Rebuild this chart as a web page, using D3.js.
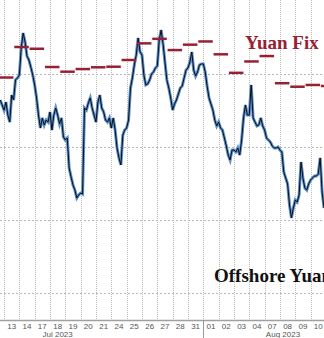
<!DOCTYPE html>
<html>
<head>
<meta charset="utf-8">
<script src="https://cdn.jsdelivr.net/npm/d3@7"></script>
<style>
  html, body { margin: 0; padding: 0; background: #fff; }
  svg { display: block; }
</style>
</head>
<body>
<div id="chart"></div>
<script>
// trading days shown on the axis (Jul 12 and Aug 11 sit just outside the frame)
const days = ["Jul 12", "Jul 13", "Jul 14", "Jul 17", "Jul 18", "Jul 19", "Jul 20", "Jul 21",
    "Jul 24", "Jul 25", "Jul 26", "Jul 27", "Jul 28", "Jul 31", "Aug 01", "Aug 02",
    "Aug 03", "Aug 04", "Aug 07", "Aug 08", "Aug 09", "Aug 10", "Aug 11"];

const tickDays = days.slice(1, 22);
const months = [{ day: "Jul 18", label: "Jul 2023", shift: 0.5 }, { day: "Aug 08", label: "Aug 2023", shift: 0.2 }];

// daily PBOC fixing
const fixDays = ["Jul 13", "Jul 14", "Jul 17", "Jul 18", "Jul 19", "Jul 20", "Jul 21", "Jul 24",
    "Jul 25", "Jul 26", "Jul 27", "Jul 28", "Jul 31", "Aug 01", "Aug 02", "Aug 03", "Aug 04",
    "Aug 07", "Aug 08", "Aug 09", "Aug 10", "Aug 11"];
const fixValues = [7.1524, 7.1315, 7.1327, 7.1452, 7.1484, 7.1466, 7.1454, 7.1450,
    7.1404, 7.1290, 7.1259, 7.1336, 7.1299, 7.1277, 7.1365, 7.1492, 7.1414,
    7.1377, 7.1563, 7.1587, 7.1575, 7.1582];

// offshore yuan, 3-hourly samples starting 18:00 on Jul 12
const cnhStart = 0.75;   // in trading days from start of Jul 12
const cnhStep = 1 / 8;
const cnhValues = [
    7.1678, 7.1712, 7.1747, 7.1692, 7.1781, 7.1829, 7.1644, 7.1678, 7.1541, 7.1527,
    7.1507, 7.1322, 7.1219, 7.1281, 7.1377, 7.1404, 7.1452, 7.1507, 7.1575, 7.1664,
    7.1781, 7.1870, 7.1801, 7.1849, 7.1815, 7.1829, 7.1760, 7.1884, 7.1781, 7.1733,
    7.1781, 7.1842, 7.1801, 7.1931, 7.1952, 7.1938, 7.2144, 7.2205, 7.2260, 7.2295,
    7.2349, 7.2329, 7.2315, 7.2322, 7.1733, 7.1747, 7.1699, 7.1664, 7.1733, 7.1781,
    7.1829, 7.1692, 7.1644, 7.1733, 7.1760, 7.1815, 7.1829, 7.1801, 7.1870, 7.1801,
    7.1884, 7.2007, 7.2075, 7.2123, 7.1918, 7.1884, 7.1870, 7.1815, 7.1596, 7.1527,
    7.1438, 7.1370, 7.1253, 7.1349, 7.1370, 7.1507, 7.1575, 7.1568, 7.1541, 7.1500,
    7.1486, 7.1459, 7.1445, 7.1267, 7.1199, 7.1294, 7.1418, 7.1541, 7.1596, 7.1664,
    7.1747, 7.1705, 7.1678, 7.1637, 7.1596, 7.1582, 7.1527, 7.1473, 7.1459, 7.1418,
    7.1349, 7.1473, 7.1514, 7.1486, 7.1438, 7.1431, 7.1431, 7.1486, 7.1582, 7.1664,
    7.1705, 7.1747, 7.1815, 7.1856, 7.1829, 7.1870, 7.1884, 7.1938, 7.1993, 7.2055,
    7.2089, 7.2021, 7.2021, 7.2034, 7.2007, 7.2055, 7.1952, 7.1801, 7.1712, 7.1781,
    7.1781, 7.1575, 7.1801, 7.1829, 7.1856, 7.1849, 7.1801, 7.1856, 7.1884, 7.1938,
    7.1952, 7.1966, 7.1993, 7.2007, 7.2007, 7.2000, 7.2021, 7.2034, 7.2171, 7.2212,
    7.2253, 7.2397, 7.2486, 7.2418, 7.2363, 7.2377, 7.2329, 7.2103, 7.2212, 7.2281,
    7.2295, 7.2253, 7.2226, 7.2212, 7.2199, 7.2199, 7.2185, 7.2075, 7.2308, 7.2418
];

const yGrid = [7.15, 7.20, 7.25, 7.30];

const width = 324;
const height = 338;
const axisY = 320;
const dayW = 15.33;
const firstEdge = 4 - dayW;

const svg = d3.select("#chart").append("svg")
    .attr("width", width)
    .attr("height", height);

// Scales
const x = d3.scaleBand()
    .domain(days)
    .range([firstEdge, firstEdge + dayW * days.length])
    .padding(0);

const xt = d3.scaleLinear()
    .domain([0, days.length])
    .range(x.range());

const y = d3.scaleLinear()
    .domain([7.0993, 7.3185])   // inverted: weaker yuan lower
    .range([0, axisY]);

// Grid
svg.append("g")
    .selectAll("line")
    .data(yGrid)
    .join("line")
    .attr("x1", 0)
    .attr("x2", width)
    .attr("y1", d => Math.round(y(d)) + 0.5)
    .attr("y2", d => Math.round(y(d)) + 0.5)
    .attr("stroke", "#b8b8b8")
    .attr("stroke-width", 1)
    .attr("stroke-dasharray", "2,2");

svg.append("g")
    .selectAll("line")
    .data(days.slice(1))
    .join("line")
    .attr("x1", d => Math.round(x(d)) + 0.5)
    .attr("x2", d => Math.round(x(d)) + 0.5)
    .attr("y1", 0)
    .attr("y2", axisY)
    .attr("stroke", "#bdbdbd")
    .attr("stroke-width", 1)
    .attr("stroke-dasharray", "1,1");

// Axis
const axis = svg.append("g")
    .attr("transform", `translate(0, ${axisY})`)
    .call(d3.axisBottom(x).tickValues(tickDays).tickSize(0).tickPadding(3)
        .tickFormat(d => d.slice(4)));

axis.select(".domain")
    .attr("stroke", "#a0a0a0")
    .attr("stroke-width", 1.5);

axis.selectAll("text")
    .style("font-family", "'Liberation Sans', Arial, sans-serif")
    .style("font-size", "8px")
    .style("fill", "#555");

// month divider below the axis
svg.append("line")
    .attr("x1", Math.round(x("Aug 01")) + 0.5)
    .attr("x2", Math.round(x("Aug 01")) + 0.5)
    .attr("y1", axisY)
    .attr("y2", height)
    .attr("stroke", "#999")
    .attr("stroke-width", 1);

svg.selectAll(".month")
    .data(months)
    .join("text")
    .attr("class", "month")
    .attr("x", d => x(d.day) + x.bandwidth() * d.shift)
    .attr("y", 336.5)
    .attr("text-anchor", "middle")
    .style("font-family", "'Liberation Sans', Arial, sans-serif")
    .style("font-size", "8px")
    .style("fill", "#555")
    .text(d => d.label);

// Offshore yuan line
const cnh = cnhValues.map((v, i) => ({ t: cnhStart + i * cnhStep, v }));

const line = d3.line()
    .x(d => xt(d.t))
    .y(d => y(d.v));

svg.append("path")
    .datum(cnh)
    .attr("fill", "none")
    .attr("stroke", "#5a8fd0")
    .attr("stroke-width", 3)
    .attr("stroke-linejoin", "miter")
    .attr("d", line);

svg.append("path")
    .datum(cnh)
    .attr("fill", "none")
    .attr("stroke", "#0d0d0d")
    .attr("stroke-width", 1)
    .attr("stroke-linejoin", "miter")
    .attr("d", line);

// Yuan fix dashes (fixing published ahead of the NY session)
svg.append("g")
    .selectAll("line")
    .data(fixDays.map((d, i) => ({ day: d, v: fixValues[i] })))
    .join("line")
    .attr("x1", d => x(d.day) - x.bandwidth() * 0.33)
    .attr("x2", d => x(d.day) + x.bandwidth() * 0.67 - 0.8)
    .attr("y1", d => y(d.v))
    .attr("y2", d => y(d.v))
    .attr("stroke", "#972033")
    .attr("stroke-width", 2.5);

// Labels
svg.append("text")
    .attr("x", 245)
    .attr("y", 48.5)
    .style("font-family", "'Liberation Serif', 'Times New Roman', serif")
    .style("font-size", "19px")
    .style("font-weight", "bold")
    .style("fill", "#972033")
    .text("Yuan Fix");

// cut by the right edge, as in the source image
svg.append("text")
    .attr("x", 214)
    .attr("y", 282)
    .style("font-family", "'Liberation Serif', 'Times New Roman', serif")
    .style("font-size", "19px")
    .style("font-weight", "bold")
    .style("fill", "#111")
    .text("Offshore Yuan");
</script>
</body>
</html>
